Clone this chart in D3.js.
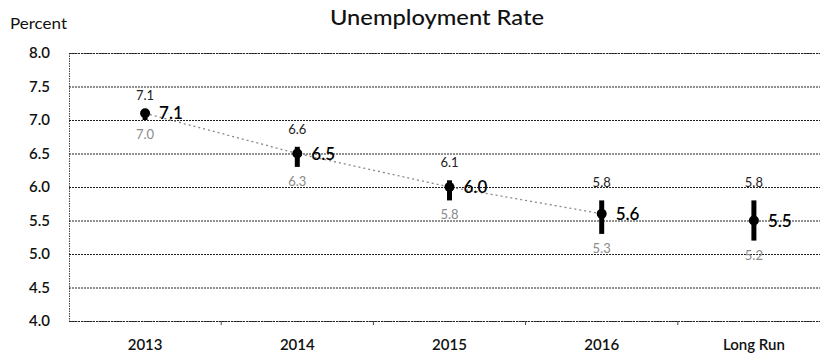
<!DOCTYPE html>
<html>
<head>
<meta charset="utf-8">
<script src="https://cdn.jsdelivr.net/npm/d3@7"></script>
<style>
  html, body { margin: 0; padding: 0; background: #fff; }
  svg { display: block; font-family: Lato, "Open Sans", sans-serif; }
</style>
</head>
<body>
<svg id="chart" width="820" height="356"></svg>
<script>
// Projection years and central-tendency ranges
const categories = ["2013", "2014", "2015", "2016", "Long Run"];
const lowValues = [7.0, 6.3, 5.8, 5.3, 5.2];
const highValues = [7.1, 6.6, 6.1, 5.8, 5.8];
const midValues = [7.1, 6.5, 6.0, 5.6, 5.5];
const yTicks = [4.0, 4.5, 5.0, 5.5, 6.0, 6.5, 7.0, 7.5, 8.0];

const svg = d3.select("#chart");
const margin = { left: 69, right: -10, top: 53, bottom: 35 };
const W = 820, H = 356;

const x = d3.scaleBand().domain(categories)
  .range([margin.left, W - margin.right]).padding(0);
const y = d3.scaleLinear().domain([4, 8]).range([H - margin.bottom, margin.top]);

// Title and unit label
svg.append("text").attr("x", 437).attr("y", 25).attr("text-anchor", "middle")
  .attr("font-size", 21).attr("font-weight", 500).attr("fill", "#111")
  .attr("textLength", 214).attr("lengthAdjust", "spacingAndGlyphs")
  .text("Unemployment Rate");
svg.append("text").attr("x", 10).attr("y", 29)
  .attr("font-size", 16).attr("fill", "#111")
  .attr("textLength", 57).attr("lengthAdjust", "spacingAndGlyphs")
  .text("Percent");

// Horizontal gridlines
const yAxis = d3.axisLeft(y).tickValues(yTicks).tickFormat(d3.format(".1f"))
  .tickSize(-(W - margin.left)).tickPadding(19);
const gy = svg.append("g").attr("transform", `translate(${margin.left},0)`).call(yAxis);
gy.select(".domain").attr("stroke", "#444").attr("stroke-dasharray", "1.5,1");
gy.selectAll(".tick line").attr("stroke", "#222").attr("stroke-width", 1)
  .attr("stroke-dasharray", "2,1");
gy.selectAll(".tick text").attr("font-size", 15).attr("font-weight", 600)
  .attr("fill", "#111").attr("font-family", "Lato, sans-serif");

// Category axis with small separator ticks
const xAxis = d3.axisBottom(x).tickSize(0).tickPadding(18);
const gx = svg.append("g").attr("transform", `translate(0,${y(4)})`).call(xAxis);
gx.select(".domain").remove();
gx.selectAll(".tick text").attr("font-size", 15).attr("font-weight", 600)
  .attr("fill", "#111").attr("font-family", "Lato, sans-serif");
svg.append("g").selectAll("line").data(categories.slice(1)).join("line")
  .attr("x1", d => x(d)).attr("x2", d => x(d))
  .attr("y1", y(4)).attr("y2", y(4) + 4)
  .attr("stroke", "#444").attr("stroke-width", 1);

const cx = d => x(d) + x.bandwidth() / 2;

// Dotted trend line through the yearly midpoints
const trend = categories.slice(0, 4).map((c, i) => [cx(c), y(midValues[i])]);
svg.append("path").attr("d", d3.line()(trend))
  .attr("fill", "none").attr("stroke", "#888").attr("stroke-width", 1.3)
  .attr("stroke-dasharray", "2,3");

// Range bars
svg.append("g").selectAll("line").data(categories).join("line")
  .attr("x1", cx).attr("x2", cx)
  .attr("y1", (d, i) => y(highValues[i])).attr("y2", (d, i) => y(lowValues[i]))
  .attr("stroke", "#000").attr("stroke-width", 5);

// Midpoint dots
svg.append("g").selectAll("circle").data(categories).join("circle")
  .attr("cx", cx).attr("cy", (d, i) => y(midValues[i])).attr("r", 5)
  .attr("fill", "#000");

// Range labels above and below each bar
svg.append("g").selectAll("text").data(categories).join("text")
  .attr("x", cx).attr("y", (d, i) => y(highValues[i]) - 13)
  .attr("text-anchor", "middle").attr("font-size", 13).attr("fill", "#222")
  .text((d, i) => highValues[i].toFixed(1));
svg.append("g").selectAll("text").data(categories).join("text")
  .attr("x", cx).attr("y", (d, i) => y(lowValues[i]) + 19)
  .attr("text-anchor", "middle").attr("font-size", 13).attr("fill", "#8a8a8a")
  .text((d, i) => lowValues[i].toFixed(1));

// Midpoint value labels
svg.append("g").selectAll("text").data(categories).join("text")
  .attr("x", d => cx(d) + 14).attr("y", (d, i) => y(midValues[i]) + 6)
  .attr("font-size", 17).attr("font-weight", 600).attr("fill", "#000")
  .text((d, i) => midValues[i].toFixed(1));
</script>
</body>
</html>
